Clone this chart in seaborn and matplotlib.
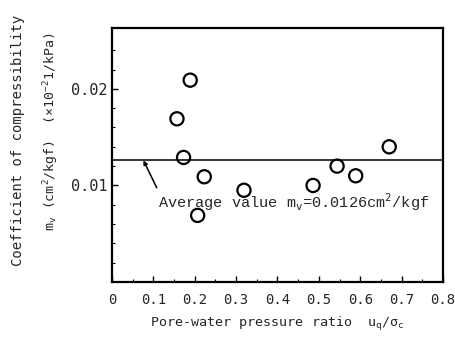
import numpy as np
import pandas as pd
import seaborn as sns
import matplotlib.pyplot as plt

# values
ratio = [0.157, 0.189, 0.173, 0.223, 0.207, 0.319, 0.486, 0.544, 0.589, 0.670]
mv = [0.0169, 0.0209, 0.0129, 0.0109, 0.0069, 0.0095, 0.0100, 0.0120, 0.0110, 0.0140]
mv_avg = 0.0126
xticks = [0, 0.1, 0.2, 0.3, 0.4, 0.5, 0.6, 0.7, 0.8]
xticklabels = ["0", "0.1", "0.2", "0.3", "0.4", "0.5", "0.6", "0.7", "0.8"]
yticks = [0.01, 0.02]
yticklabels = ["0.01", "0.02"]

df = pd.DataFrame({"ratio": ratio, "mv": mv})

sns.set_style("ticks")
plt.rcParams["font.family"] = ["DejaVu Sans Mono", "DejaVu Sans"]
plt.rcParams["mathtext.fontset"] = "custom"
plt.rcParams["mathtext.rm"] = "DejaVu Sans Mono"
plt.rcParams["mathtext.it"] = "DejaVu Sans Mono"

fig = plt.figure(figsize=(4.56, 3.39), dpi=100)
ax = fig.add_axes([0.2456, 0.168, 0.7259, 0.7494])

sns.scatterplot(x="ratio", y="mv", data=df, ax=ax, marker="o", s=90,
                facecolor="none", edgecolor="black", linewidth=1.6)
ax.axhline(mv_avg, color="black", lw=1.1)

ax.annotate("Average value m$_v$=0.0126cm$^2$/kgf", xy=(0.076, mv_avg),
            xytext=(0.112, 0.0083), ha="left", va="center",
            fontsize=11, family=["Liberation Mono"],
            arrowprops=dict(arrowstyle="-|>", color="black", lw=1.1,
                            mutation_scale=6, shrinkA=0, shrinkB=0,
                            relpos=(0, 1)))

ax.set_xlim(0, 0.8)
ax.set_ylim(0, 0.0263)
ax.set_xticks(xticks)
ax.set_xticklabels(xticklabels, fontsize=10)
ax.set_yticks(yticks)
ax.set_yticklabels(yticklabels, fontsize=11)
ax.set_xticks(np.arange(0.05, 0.8, 0.1), minor=True)
ax.set_yticks(np.arange(0.002, 0.026, 0.002), minor=True)
ax.tick_params(which="both", direction="in", color="black")
ax.tick_params(which="major", length=4, width=1)
ax.tick_params(which="minor", length=2.5, width=0.8)
ax.tick_params(axis="x", which="both", top=False, pad=8)
ax.tick_params(axis="y", which="both", right=False, pad=3)
for sp in ax.spines.values():
    sp.set_linewidth(1.6)
    sp.set_color("black")

ax.set_xlabel("Pore-water pressure ratio  $u_q/\\sigma_c$", fontsize=9.6, labelpad=6)
ax.set_ylabel("")
fig.text(0.04, 0.585, "Coefficient of compressibility", rotation=90,
         ha="center", va="center", fontsize=10)
fig.text(0.112, 0.61, "m$_v$ (cm$^2$/kgf)  ($\\times$10$^{-2}$1/kPa)", rotation=90,
         ha="center", va="center", fontsize=9.5)

fig.savefig("out.png", dpi=100)
